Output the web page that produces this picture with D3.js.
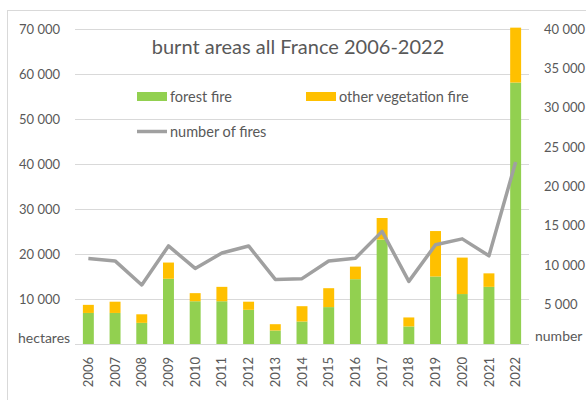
<!DOCTYPE html>
<html>
<head>
<meta charset="utf-8">
<script src="https://cdn.jsdelivr.net/npm/d3@7"></script>
<style>
  body { margin: 0; background: #fff; }
  text { font-family: Lato, "Open Sans", sans-serif; fill: #595959; }
</style>
</head>
<body>
<svg id="chart" width="586" height="400"></svg>
<script>
// data
const years = ["2006","2007","2008","2009","2010","2011","2012","2013","2014","2015","2016","2017","2018","2019","2020","2021","2022"];
const forestFire = [6900, 6900, 4700, 14500, 9500, 9500, 7600, 3000, 5000, 8200, 14400, 23200, 3900, 15000, 11100, 12700, 58100];
const totalBurnt = [8700, 9400, 6600, 18100, 11300, 12700, 9400, 4400, 8400, 12400, 17200, 28000, 5900, 25100, 19200, 15700, 70300];
const otherVegetation = totalBurnt.map((t, i) => t - forestFire[i]);
const numberOfFires = [10850, 10550, 7500, 12450, 9600, 11550, 12450, 8200, 8300, 10550, 10900, 14300, 7950, 12600, 13350, 11200, 23100];
const leftTicks = [10000, 20000, 30000, 40000, 50000, 60000, 70000];
const rightTicks = [5000, 10000, 15000, 20000, 25000, 30000, 35000, 40000];

const svg = d3.select("#chart");
const fmt = d3.formatLocale({ decimal: ",", thousands: " ", grouping: [3], currency: ["", ""] }).format(",d");

const green = "#92d050", orange = "#ffc000", lineGrey = "#a0a0a0";

// frame (only top and left edges show in the crop)
svg.append("line").attr("x1", 7).attr("x2", 586).attr("y1", 10.5).attr("y2", 10.5).attr("stroke", "#d9d9d9");
svg.append("line").attr("x1", 7.5).attr("x2", 7.5).attr("y1", 10).attr("y2", 400).attr("stroke", "#d9d9d9");

const x = d3.scaleBand().domain(years).range([75, 529]).paddingInner(0.59).paddingOuter(0.295);
const yLeft = d3.scaleLinear().domain([0, 70000]).range([344, 29]);
const yRight = d3.scaleLinear().domain([0, 40000]).range([344, 29]);

// gridlines
svg.append("g").selectAll("line").data(leftTicks).join("line")
    .attr("x1", 75).attr("x2", 529)
    .attr("y1", d => Math.round(yLeft(d)) + 0.5).attr("y2", d => Math.round(yLeft(d)) + 0.5)
    .attr("stroke", "#d9d9d9").attr("stroke-width", 1);

// left tick labels
svg.append("g").selectAll("text").data(leftTicks).join("text")
    .attr("x", 60).attr("y", d => yLeft(d)).attr("dy", "0.35em")
    .attr("text-anchor", "end").style("font-size", "13px")
    .text(d => fmt(d));

// right tick labels
svg.append("g").selectAll("text").data(rightTicks).join("text")
    .attr("x", 544).attr("y", d => yRight(d)).attr("dy", "0.35em")
    .attr("text-anchor", "start").style("font-size", "13px")
    .text(d => fmt(d));

// stacked bars
const rows = years.map((yr, i) => ({ year: yr, forest: forestFire[i], other: otherVegetation[i] }));
const stacked = d3.stack().keys(["forest", "other"])(rows);
const colors = { forest: green, other: orange };

svg.append("g").selectAll("g").data(stacked).join("g")
    .attr("fill", d => colors[d.key])
    .selectAll("rect").data(d => d).join("rect")
    .attr("x", d => x(d.data.year))
    .attr("width", x.bandwidth())
    .attr("y", d => yLeft(d[1]))
    .attr("height", d => yLeft(d[0]) - yLeft(d[1]));

// base axis line
svg.append("line").attr("x1", 75).attr("x2", 529).attr("y1", 344.5).attr("y2", 344.5).attr("stroke", "#d9d9d9");

// number of fires line
const line = d3.line()
    .x((d, i) => x(years[i]) + x.bandwidth() / 2)
    .y(d => yRight(d));
svg.append("path").datum(numberOfFires)
    .attr("d", line).attr("fill", "none")
    .attr("stroke", lineGrey).attr("stroke-width", 3.5).attr("stroke-linejoin", "round");

// year labels
svg.append("g").selectAll("text").data(years).join("text")
    .attr("transform", d => `translate(${x(d) + x.bandwidth() / 2},357) rotate(-90)`)
    .attr("text-anchor", "end").attr("dy", "0.35em")
    .style("font-size", "13px")
    .text(d => d);

// unit labels
svg.append("text").attr("x", 18).attr("y", 338).attr("dy", "0.35em").style("font-size", "14px").text("hectares");
svg.append("text").attr("x", 535).attr("y", 336).attr("dy", "0.35em").style("font-size", "14px").text("number");

// title
svg.append("text").attr("x", 298).attr("y", 47).attr("dy", "0.35em")
    .attr("text-anchor", "middle").style("font-size", "20px")
    .text("burnt areas all France 2006-2022");

// legend
const legend = svg.append("g");
legend.append("rect").attr("x", 137).attr("y", 92).attr("width", 30).attr("height", 9).attr("fill", green);
legend.append("text").attr("x", 170).attr("y", 96.5).attr("dy", "0.35em").style("font-size", "14.5px").text("forest fire");
legend.append("rect").attr("x", 306).attr("y", 92).attr("width", 30).attr("height", 9).attr("fill", orange);
legend.append("text").attr("x", 339).attr("y", 96.5).attr("dy", "0.35em").style("font-size", "14.5px").text("other vegetation fire");
legend.append("line").attr("x1", 137).attr("x2", 167).attr("y1", 131.5).attr("y2", 131.5).attr("stroke", lineGrey).attr("stroke-width", 3.5);
legend.append("text").attr("x", 170).attr("y", 131.5).attr("dy", "0.35em").style("font-size", "14.5px").text("number of fires");
</script>
</body>
</html>
